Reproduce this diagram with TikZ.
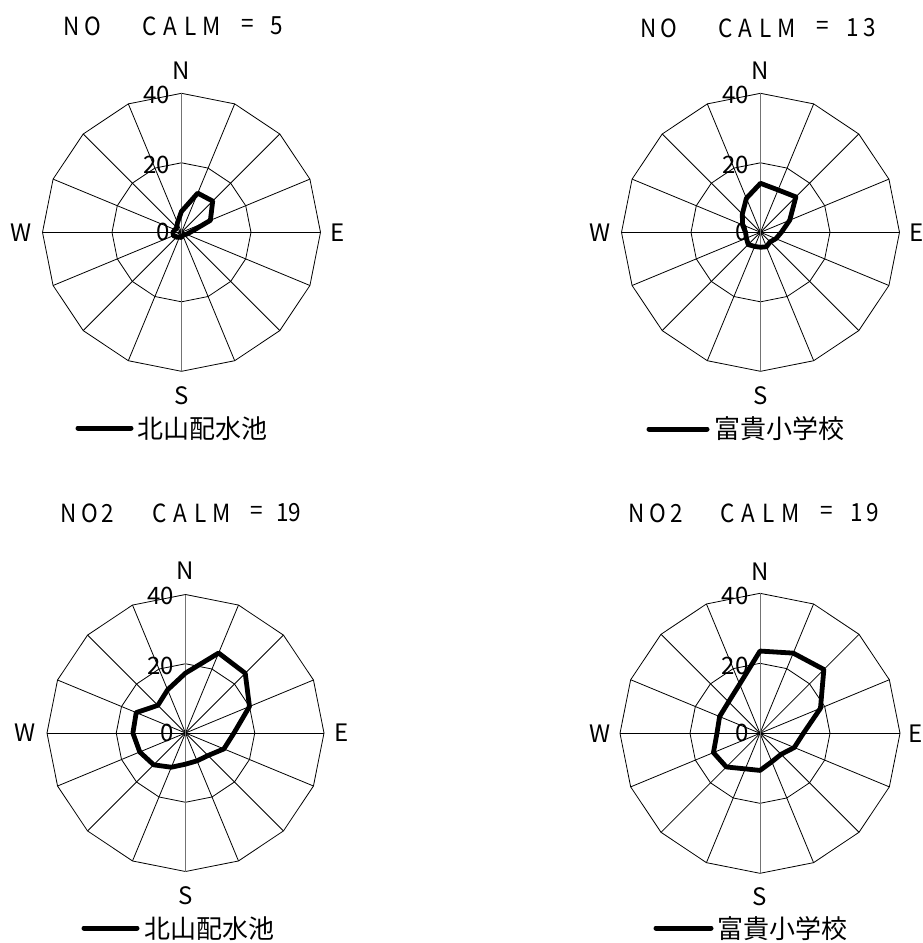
\documentclass[tikz,border=0pt]{standalone}
\usepackage{fontspec}
\usetikzlibrary{calc}
\setmainfont{Noto Sans CJK JP}
\begin{document}
\begin{tikzpicture}[x=1pt,y=-1pt,
  gridline/.style={draw=black,line width=0.8pt},
  axisline/.style={draw=black!55,line width=0.9pt},
  dataline/.style={draw=black,line width=4.8pt,line join=round},
  legline/.style={draw=black,line width=5pt,line cap=round},
  ttl/.style={inner sep=0pt,font=\fontsize{25}{25}\selectfont,xscale=0.9},
  cmp/.style={inner sep=0pt,font=\fontsize{24}{24}\selectfont},
  lbl/.style={inner sep=0pt,font=\fontsize{24}{24}\selectfont},
  legtxt/.style={inner sep=0pt,anchor=west,font=\fontsize{26}{26}\selectfont}]
\useasboundingbox (0,0) rectangle (923,943);
\fill[white] (0,0) rectangle (923,943);

\newcommand{\rosegrid}[4]{% cx cy R prefix
  \coordinate (#4c) at (#1,#2);
  \foreach \i in {0,...,15} {
    \pgfmathsetmacro\tt{22.5*\i}
    \coordinate (#4o\i) at ({#1+#3*sin(\tt)},{#2-#3*cos(\tt)});
    \coordinate (#4m\i) at ({#1+0.5*#3*sin(\tt)},{#2-0.5*#3*cos(\tt)});
  }
  \foreach \i in {0,...,15} {\draw[gridline] (#4c) -- (#4o\i);}
  \draw[gridline] (#4o0) \foreach \i in {1,...,15}{-- (#4o\i)} -- cycle;
  \draw[gridline] (#4m0) \foreach \i in {1,...,15}{-- (#4m\i)} -- cycle;
  \draw[axisline] (#4o0) -- (#4o8);
  \node[cmp] (#4N) at ($(#4c)+(0,-162)$) {N};
  \node[cmp] (#4S) at ($(#4c)+(0,163)$) {S};
  \node[cmp] (#4W) at ($(#4c)+(-160,0)$) {W};
  \node[cmp] (#4E) at ($(#4c)+(156,0)$) {E};
  \node[lbl] (#4l40) at ($(#4c)+(-25,-137)$) {40};
  \node[lbl] (#4l20) at ($(#4c)+(-25,-67)$) {20};
  \node[lbl] (#4l0) at ($(#4c)+(-18,0)$) {0};
}
\newcommand{\rosedata}[5]{% cx cy R prefix values
  \foreach \v [count=\k from 0] in {#5} {
    \pgfmathsetmacro\tt{22.5*\k}
    \coordinate (#4d\k) at ({#1+#3/40*\v*sin(\tt)},{#2-#3/40*\v*cos(\tt)});
  }
  \draw[dataline] (#4d0) \foreach \k in {1,...,15}{-- (#4d\k)} -- cycle;
}

% ---------- chart 1 ----------
\rosegrid{181.5}{232.3}{139}{a}
\rosedata{181.5}{232.3}{139}{a}{6,12.2,12.7,9,2.5,1.5,1,1,1.5,1.5,2,2.5,2.5,2,2,3}
\foreach \x/\c [count=\n] in {72/N,93/O,150/C,170/A,191/L,212/M,248/=,277/5}
  \node[ttl] (at\n) at (\x,26) {\c};
\coordinate (al1) at (78,428);
\coordinate (al2) at (131,428);
\draw[legline] (al1) -- (al2);
\node[legtxt] (alt) at (137,429) {北山配水池};

% ---------- chart 2 ----------
\rosegrid{760.5}{232.3}{139}{b}
\rosedata{760.5}{232.3}{139}{b}{14.1,13.2,14.4,9.1,6,4.8,3.9,4.5,4.3,4.4,5,4.4,4.3,5.6,7.4,10.6}
\foreach \x/\c [count=\n] in {649/N,669/O,726/C,745/A,766/L,787/M,823/=,853/1,870/3}
  \node[ttl] (bt\n) at (\x,28) {\c};
\coordinate (bl1) at (649,429);
\coordinate (bl2) at (707,429);
\draw[legline] (bl1) -- (bl2);
\node[legtxt] (blt) at (714,429) {富貴小学校};

% ---------- chart 3 ----------
\rosegrid{185.5}{733}{138.5}{c}
\rosedata{185.5}{733}{138.5}{c}{17.3,25,24.4,20,14,12,9.2,8.7,9,10.7,13,14.3,15.2,15.4,11.3,13.5}
\foreach \x/\c [count=\n] in {69/N,90/O,108/2,160/C,180/A,201/L,222/M,257/=,283/1,295/9}
  \node[ttl] (ct\n) at (\x,513) {\c};
\coordinate (cl1) at (84,928);
\coordinate (cl2) at (137,928);
\draw[legline] (cl1) -- (cl2);
\node[legtxt] (clt) at (144,929) {北山配水池};

% ---------- chart 4 ----------
\rosegrid{760}{733.3}{140}{d}
\rosedata{760}{733.3}{140}{d}{23.5,24.8,25.8,18.7,12.4,10.6,8.5,8.8,10.6,11,13.6,14.4,12.3,12.5,12.7,15.2}
\foreach \x/\c [count=\n] in {637/N,658/O,677/2,728/C,748/A,769/L,791/M,827/=,857/1,873/9}
  \node[ttl] (dt\n) at (\x,513) {\c};
\coordinate (dl1) at (656,928);
\coordinate (dl2) at (711,928);
\draw[legline] (dl1) -- (dl2);
\node[legtxt] (dlt) at (717,929) {富貴小学校};
\end{tikzpicture}
\end{document}
